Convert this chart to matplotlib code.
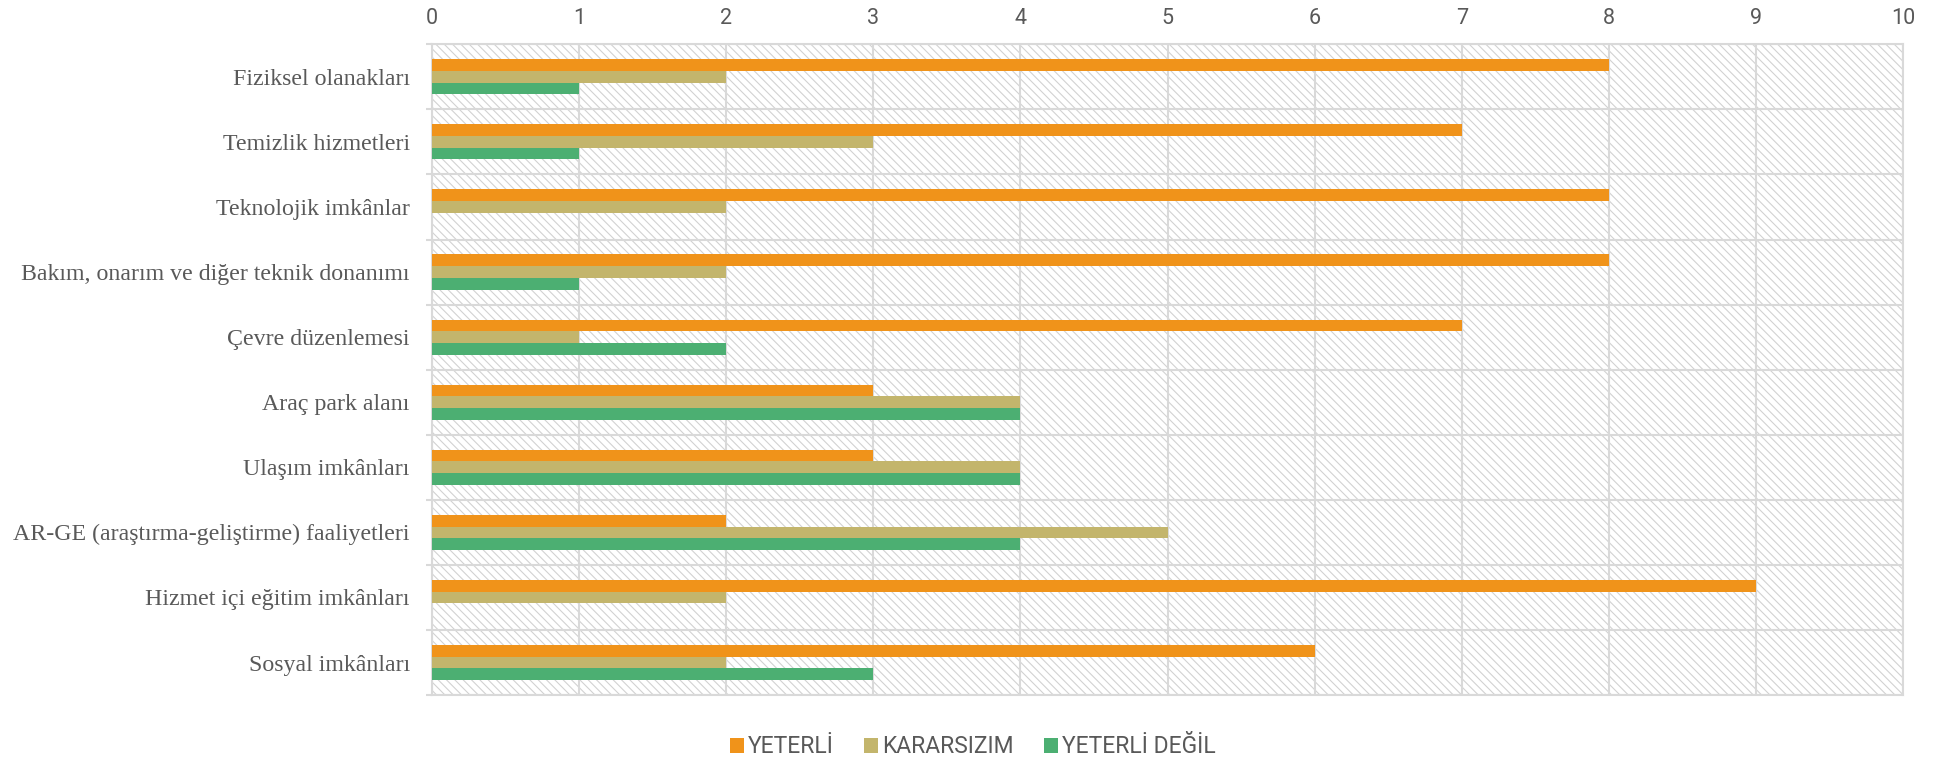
import numpy as np
import matplotlib
matplotlib.use("Agg")
import matplotlib.pyplot as plt
from matplotlib.patches import Patch, Rectangle

# categories (top to bottom) and counts per answer
categories = [
    "Fiziksel olanakları",
    "Temizlik hizmetleri",
    "Teknolojik imkânlar",
    "Bakım, onarım ve diğer teknik donanımı",
    "Çevre düzenlemesi",
    "Araç park alanı",
    "Ulaşım imkânları",
    "AR-GE (araştırma-geliştirme) faaliyetleri",
    "Hizmet içi eğitim imkânları",
    "Sosyal imkânları",
]
yeterli = [8, 7, 8, 8, 7, 3, 3, 2, 9, 6]
kararsizim = [2, 3, 2, 2, 1, 4, 4, 5, 2, 2]
yeterli_degil = [1, 1, 0, 1, 2, 4, 4, 4, 0, 3]

series_names = ["YETERLİ", "KARARSIZIM", "YETERLİ DEĞİL"]
colors = ["#F0931A", "#C3B56C", "#4CAF72"]
grid_col = "#D9D9D9"
text_col = "#595959"

plt.rcParams["hatch.color"] = "#D2D2D2"
plt.rcParams["hatch.linewidth"] = 0.8

fig = plt.figure(figsize=(19.46, 7.63), dpi=100)
ax = fig.add_axes([0.222, 0.089, 0.756, 0.853])

# hatched background
ax.add_patch(Rectangle((0, 0), 1, 1, transform=ax.transAxes, facecolor="white",
                       hatch="\\\\\\\\", edgecolor="#D2D2D2", linewidth=0, zorder=0))

y = np.arange(len(categories))
h = 0.18
for i, (vals, name) in enumerate(zip([yeterli, kararsizim, yeterli_degil], series_names)):
    ax.barh(y + (i - 1) * h, vals, height=h, color=colors[i], zorder=3, label=name)

ax.set_xlim(0, 10)
ax.set_ylim(len(categories) - 0.5, -0.5)
ax.set_xticks(range(0, 11))
ax.xaxis.tick_top()
ax.tick_params(axis="x", length=0, pad=11, labelsize=15.5, labelcolor=text_col)
for lab in ax.get_xticklabels():
    lab.set_fontfamily("Roboto")

ax.set_yticks(y)
ax.set_yticklabels(categories, fontfamily="Liberation Serif", fontsize=17.2, color=text_col)
ax.tick_params(axis="y", which="major", length=0, pad=16)
ax.set_yticks(np.arange(-0.5, len(categories) + 0.5, 1), minor=True)
ax.tick_params(axis="y", which="minor", length=4.5, width=1.5, color=grid_col)

ax.grid(axis="x", color=grid_col, linewidth=1.5, zorder=1)
ax.grid(axis="y", which="minor", color=grid_col, linewidth=1.5, zorder=1)
ax.set_axisbelow(True)
for s in ax.spines.values():
    s.set_color(grid_col)
    s.set_linewidth(1.5)

handles = [Patch(facecolor=c, label=n) for c, n in zip(colors, series_names)]
leg = fig.legend(handles=handles, loc="center", bbox_to_anchor=(0.5, 0.021), ncol=3,
                 frameon=False, handlelength=0.6, handleheight=0.6, handletextpad=0.2,
                 columnspacing=1.3, borderpad=0, prop={"family": "Roboto", "size": 16.5})
for t in leg.get_texts():
    t.set_color(text_col)

fig.savefig("out.png", dpi=100)
